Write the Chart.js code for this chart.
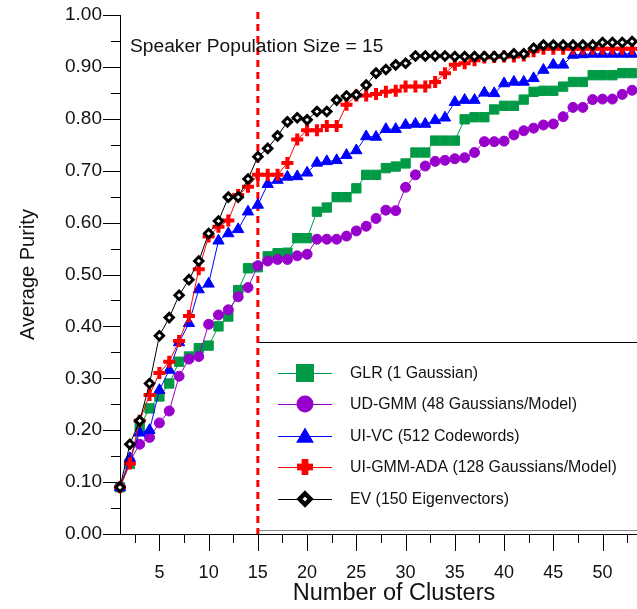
<!DOCTYPE html>
<html>
<head>
<meta charset="utf-8">
<style>
  html, body { margin: 0; padding: 0; background: #ffffff; overflow: hidden; }
  #wrap { width: 637px; height: 609px; position: relative; }
</style>
<script src="https://cdn.jsdelivr.net/npm/chart.js@4.4.1/dist/chart.umd.min.js"></script>
</head>
<body>
<div id="wrap"><canvas id="chart"></canvas></div>
<script>
// Number of clusters on the x axis
const clusters = [1, 2, 3, 4, 5, 6, 7, 8, 9, 10, 11, 12, 13, 14, 15, 16, 17, 18, 19, 20,
  21, 22, 23, 24, 25, 26, 27, 28, 29, 30, 31, 32, 33, 34, 35, 36, 37, 38, 39, 40,
  41, 42, 43, 44, 45, 46, 47, 48, 49, 50, 51, 52, 53];

// Average purity per system
const glr = [0.09, 0.135, 0.207, 0.242, 0.265, 0.29, 0.332, 0.342, 0.358, 0.363,
  0.40, 0.419, 0.47, 0.512, 0.514, 0.535, 0.541, 0.542, 0.57, 0.57,
  0.621, 0.629, 0.649, 0.649, 0.666, 0.692, 0.692, 0.705, 0.708, 0.714,
  0.735, 0.735, 0.758, 0.758, 0.758, 0.799, 0.803, 0.803, 0.818, 0.825,
  0.825, 0.837, 0.852, 0.854, 0.854, 0.862, 0.871, 0.871, 0.884, 0.884,
  0.884, 0.888, 0.888];

const udGmm = [0.09, 0.14, 0.173, 0.186, 0.214, 0.237, 0.304, 0.337, 0.342, 0.404,
  0.422, 0.432, 0.457, 0.475, 0.517, 0.526, 0.529, 0.529, 0.536, 0.539,
  0.568, 0.568, 0.568, 0.574, 0.584, 0.593, 0.608, 0.624, 0.623, 0.668,
  0.692, 0.709, 0.718, 0.72, 0.723, 0.725, 0.735, 0.756, 0.756, 0.757,
  0.769, 0.777, 0.782, 0.788, 0.79, 0.804, 0.822, 0.822, 0.837, 0.838,
  0.838, 0.847, 0.855];

const uiVc = [0.09, 0.146, 0.195, 0.20, 0.277, 0.316, 0.369, 0.406, 0.471, 0.482,
  0.565, 0.579, 0.587, 0.621, 0.634, 0.674, 0.682, 0.688, 0.689, 0.696,
  0.715, 0.718, 0.72, 0.73, 0.739, 0.766, 0.765, 0.78, 0.78, 0.788,
  0.79, 0.79, 0.797, 0.802, 0.832, 0.836, 0.836, 0.85, 0.849, 0.868,
  0.871, 0.871, 0.878, 0.894, 0.904, 0.904, 0.923, 0.924, 0.925, 0.925,
  0.925, 0.925, 0.925];

const uiGmmAda = [0.09, 0.136, 0.218, 0.268, 0.31, 0.332, 0.372, 0.42, 0.51, 0.573,
  0.592, 0.604, 0.653, 0.669, 0.692, 0.692, 0.692, 0.715, 0.76, 0.778,
  0.778, 0.786, 0.786, 0.827, 0.845, 0.845, 0.848, 0.852, 0.854, 0.862,
  0.862, 0.862, 0.871, 0.888, 0.904, 0.907, 0.913, 0.918, 0.919, 0.92,
  0.92, 0.922, 0.93, 0.935, 0.935, 0.935, 0.935, 0.935, 0.935, 0.935,
  0.935, 0.935, 0.935];

const ev = [0.09, 0.173, 0.218, 0.29, 0.382, 0.417, 0.46, 0.49, 0.526, 0.579,
  0.603, 0.649, 0.649, 0.684, 0.727, 0.743, 0.767, 0.794, 0.802, 0.798,
  0.814, 0.814, 0.836, 0.844, 0.846, 0.865, 0.888, 0.895, 0.904, 0.907,
  0.921, 0.921, 0.921, 0.921, 0.92, 0.92, 0.92, 0.92, 0.92, 0.921,
  0.925, 0.925, 0.936, 0.942, 0.942, 0.942, 0.942, 0.942, 0.942, 0.947,
  0.947, 0.947, 0.949];

const seriesLabels = [
  'GLR (1 Gaussian)',
  'UD-GMM (48 Gaussians/Model)',
  'UI-VC (512 Codewords)',
  'UI-GMM-ADA (128 Gaussians/Model)',
  'EV (150 Eigenvectors)'
];

// Axis ticks
const xMajorTicks = [5, 10, 15, 20, 25, 30, 35, 40, 45, 50];
const xMinorTicks = [2.5, 7.5, 12.5, 17.5, 22.5, 27.5, 32.5, 37.5, 42.5, 47.5, 52.5];
const yMajorTicks = [0, 0.1, 0.2, 0.3, 0.4, 0.5, 0.6, 0.7, 0.8, 0.9, 1.0];
const yMinorTicks = [0.05, 0.15, 0.25, 0.35, 0.45, 0.55, 0.65, 0.75, 0.85, 0.95];

const populationSize = 15;
const noteText = 'Speaker Population Size = 15';
const xTitle = 'Number of Clusters';
const yTitle = 'Average Purity';

const FONT = '"Liberation Sans", Arial, Helvetica, sans-serif';
const GREEN = '#009a46';
const PURPLE = '#9900cc';
const BLUE = '#0000ff';
const RED = '#ff0000';
const BLACK = '#000000';

function toPoints(values) {
  return clusters.map((c, i) => ({ x: c, y: values[i] }));
}

const styles = [
  { color: GREEN, shape: 'rect' },
  { color: PURPLE, shape: 'circle' },
  { color: BLUE, shape: 'triangle' },
  { color: RED, shape: 'cross' },
  { color: BLACK, shape: 'rectRot' }
];

const datasets = [
  {
    label: seriesLabels[0], data: toPoints(glr), order: 5,
    borderColor: GREEN, backgroundColor: GREEN, borderWidth: 1,
    pointStyle: 'rect', pointRadius: 6.6, pointBorderWidth: 1,
    pointBackgroundColor: GREEN, pointBorderColor: GREEN
  },
  {
    label: seriesLabels[1], data: toPoints(udGmm), order: 4,
    borderColor: PURPLE, backgroundColor: PURPLE, borderWidth: 1,
    pointStyle: 'circle', pointRadius: 5, pointBorderWidth: 1,
    pointBackgroundColor: PURPLE, pointBorderColor: PURPLE
  },
  {
    label: seriesLabels[2], data: toPoints(uiVc), order: 3,
    borderColor: BLUE, backgroundColor: BLUE, borderWidth: 1,
    pointStyle: 'triangle', pointRadius: 6.5, pointBorderWidth: 1,
    pointBackgroundColor: BLUE, pointBorderColor: BLUE
  },
  {
    label: seriesLabels[3], data: toPoints(uiGmmAda), order: 2,
    borderColor: RED, backgroundColor: RED, borderWidth: 1,
    pointStyle: 'cross', pointRadius: 6, pointBorderWidth: 4,
    pointBackgroundColor: RED, pointBorderColor: RED
  },
  {
    label: seriesLabels[4], data: toPoints(ev), order: 1,
    borderColor: BLACK, backgroundColor: '#ffffff', borderWidth: 1,
    pointStyle: 'rectRot', pointRadius: 4.2, pointBorderWidth: 3,
    pointBackgroundColor: '#ffffff', pointBorderColor: BLACK
  }
].map(d => Object.assign(d, { clip: false, tension: 0, pointHoverRadius: d.pointRadius }));

function drawMarker(ctx, shape, color, x, y, s) {
  ctx.save();
  ctx.fillStyle = color;
  ctx.strokeStyle = color;
  ctx.beginPath();
  if (shape === 'rect') {
    ctx.fillRect(x - s, y - s, 2 * s, 2 * s);
  } else if (shape === 'circle') {
    ctx.arc(x, y, s, 0, Math.PI * 2);
    ctx.fill();
  } else if (shape === 'triangle') {
    ctx.moveTo(x, y - s);
    ctx.lineTo(x + s * 1.05, y + s * 0.8);
    ctx.lineTo(x - s * 1.05, y + s * 0.8);
    ctx.closePath();
    ctx.fill();
  } else if (shape === 'cross') {
    const t = s * 0.42;
    ctx.fillRect(x - s, y - t, 2 * s, 2 * t);
    ctx.fillRect(x - t, y - s, 2 * t, 2 * s);
  } else if (shape === 'rectRot') {
    ctx.moveTo(x, y - s);
    ctx.lineTo(x + s, y);
    ctx.lineTo(x, y + s);
    ctx.lineTo(x - s, y);
    ctx.closePath();
    ctx.fillStyle = '#ffffff';
    ctx.fill();
    ctx.lineWidth = 4.5;
    ctx.strokeStyle = BLACK;
    ctx.stroke();
  }
  ctx.restore();
}

// Legend box, population marker, note and x title drawn under the data
const backdropPlugin = {
  id: 'backdrop',
  beforeDatasetsDraw(chart) {
    const { ctx, chartArea, scales } = chart;
    const x15 = scales.x.getPixelForValue(populationSize);
    const boxTop = 342, boxBottom = 530;

    ctx.save();
    // legend box
    ctx.fillStyle = '#ffffff';
    ctx.fillRect(x15, boxTop, chart.width - x15 + 5, boxBottom - boxTop);
    ctx.lineWidth = 1;
    ctx.strokeStyle = '#000000';
    ctx.beginPath();
    ctx.moveTo(x15, boxTop + 0.5);
    ctx.lineTo(chart.width + 2, boxTop + 0.5);
    ctx.stroke();
    ctx.strokeStyle = '#888888';
    ctx.beginPath();
    ctx.moveTo(x15, boxBottom + 0.5);
    ctx.lineTo(chart.width + 2, boxBottom + 0.5);
    ctx.stroke();

    // legend entries
    const rowY = [373, 404, 436, 467, 499];
    const markerSizes = [9, 8.5, 8.5, 8, 5.5];
    ctx.font = '15.9px ' + FONT;
    ctx.textBaseline = 'middle';
    ctx.textAlign = 'left';
    styles.forEach((st, i) => {
      const y = rowY[i];
      ctx.strokeStyle = st.color;
      ctx.lineWidth = 1;
      ctx.beginPath();
      ctx.moveTo(278, y + 0.5);
      ctx.lineTo(332, y + 0.5);
      ctx.stroke();
      drawMarker(ctx, st.shape, st.color, 305, y, markerSizes[i]);
      ctx.fillStyle = '#111111';
      ctx.fillText(seriesLabels[i], 350, y + 1);
    });

    // dashed population-size line
    ctx.strokeStyle = RED;
    ctx.lineWidth = 3;
    ctx.setLineDash([7, 5]);
    ctx.beginPath();
    ctx.moveTo(x15, chartArea.top - 3);
    ctx.lineTo(x15, chartArea.bottom);
    ctx.stroke();
    ctx.setLineDash([]);

    // note text
    ctx.fillStyle = '#111111';
    ctx.font = '19.2px ' + FONT;
    ctx.textBaseline = 'alphabetic';
    ctx.fillText(noteText, 130, 52);

    // x axis title
    ctx.font = '23.5px ' + FONT;
    ctx.textAlign = 'center';
    ctx.textBaseline = 'middle';
    ctx.fillText(xTitle, 394, 594);
    ctx.restore();
  },
  afterDraw(chart) {
    // tick marks: long for labelled ticks, short for intermediate ones
    const { ctx, chartArea, scales } = chart;
    ctx.save();
    ctx.strokeStyle = '#000000';
    ctx.lineWidth = 1;
    ctx.beginPath();
    xMajorTicks.forEach(v => {
      const px = Math.round(scales.x.getPixelForValue(v)) + 0.5;
      ctx.moveTo(px, chartArea.bottom);
      ctx.lineTo(px, chartArea.bottom + 17);
    });
    xMinorTicks.forEach(v => {
      const px = Math.round(scales.x.getPixelForValue(v)) + 0.5;
      ctx.moveTo(px, chartArea.bottom);
      ctx.lineTo(px, chartArea.bottom + 9);
    });
    yMajorTicks.forEach(v => {
      const py = Math.round(scales.y.getPixelForValue(v)) + 0.5;
      ctx.moveTo(chartArea.left, py);
      ctx.lineTo(chartArea.left - 17, py);
    });
    yMinorTicks.forEach(v => {
      const py = Math.round(scales.y.getPixelForValue(v)) + 0.5;
      ctx.moveTo(chartArea.left, py);
      ctx.lineTo(chartArea.left - 9, py);
    });
    ctx.stroke();
    ctx.restore();
  }
};

new Chart(document.getElementById('chart'), {
  type: 'line',
  data: { datasets },
  options: {
    responsive: true,
    maintainAspectRatio: false,
    devicePixelRatio: 1,
    animation: false,
    events: [],
    layout: { autoPadding: false, padding: { top: 15, right: 0, bottom: 0, left: 0 } },
    plugins: {
      legend: { display: false },
      tooltip: { enabled: false }
    },
    scales: {
      x: {
        type: 'linear',
        min: 1,
        max: 53.5,
        afterBuildTicks(scale) {
          scale.ticks = xMajorTicks.map(v => ({ value: v }));
        },
        afterFit(scale) { scale.height = 75; },
        grid: { display: false, drawTicks: true, tickLength: 28 },
        border: { display: true, color: '#000000', width: 1 },
        ticks: {
          autoSkip: false,
          maxRotation: 0,
          padding: 0,
          color: '#111111',
          font: { family: FONT, size: 18 },
          callback: v => String(v)
        },
        title: { display: false, text: xTitle }
      },
      y: {
        type: 'linear',
        min: 0,
        max: 1,
        afterBuildTicks(scale) {
          scale.ticks = yMajorTicks.map(v => ({ value: v }));
        },
        afterFit(scale) { scale.width = 120; },
        grid: { display: false, drawTicks: true, tickLength: 18 },
        border: { display: true, color: '#000000', width: 1 },
        ticks: {
          autoSkip: false,
          padding: 0,
          color: '#111111',
          font: { family: FONT, size: 19 },
          callback: v => v.toFixed(2)
        },
        title: {
          display: true,
          text: yTitle,
          color: '#111111',
          font: { family: FONT, size: 20 },
          padding: { top: 16, bottom: 0 }
        }
      }
    }
  },
  plugins: [backdropPlugin]
});
</script>
</body>
</html>
